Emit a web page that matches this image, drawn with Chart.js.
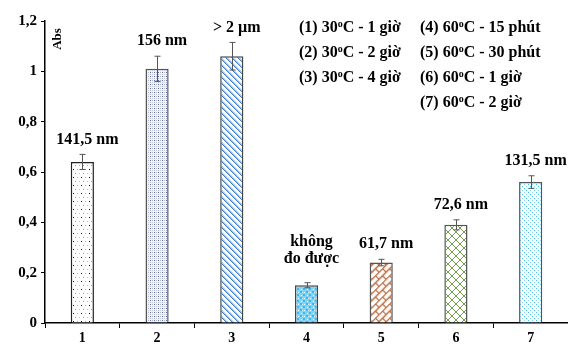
<!DOCTYPE html>
<html>
<head>
<meta charset="utf-8">
<script src="https://cdn.jsdelivr.net/npm/chart.js@4"></script>
<style>
  body { margin: 0; background: #fff; }
  #wrap { width: 568px; height: 345px; }
</style>
</head>
<body>
<div id="wrap"><canvas id="barChart" width="568" height="345"></canvas></div>
<script>
var categories = ['1', '2', '3', '4', '5', '6', '7'];
var absValues = [0.64, 1.01, 1.06, 0.15, 0.24, 0.39, 0.56];
var absErrors = [0.03, 0.05, 0.055, 0.01, 0.013, 0.02, 0.025];
var sizeLabels = ['141,5 nm', '156 nm', '> 2 µm', ['không', 'đo được'], '61,7 nm', '72,6 nm', '131,5 nm'];
var yTickLabels = ['0', '0,2', '0,4', '0,6', '0,8', '1', '1,2'];
var legendCol1 = ['(1) 30°C - 1 giờ', '(2) 30°C - 2 giờ', '(3) 30°C - 4 giờ'];
var legendCol2 = ['(4) 60°C - 15 phút', '(5) 60°C - 30 phút', '(6) 60°C - 1 giờ', '(7) 60°C - 2 giờ'];

var serif = '"Liberation Serif", "Times New Roman", serif';

function makePattern(w, h, draw, matrix) {
    var c = document.createElement('canvas');
    c.width = w;
    c.height = h;
    var g = c.getContext('2d');
    g.fillStyle = '#fff';
    g.fillRect(0, 0, w, h);
    draw(g);
    var p = document.getElementById('barChart').getContext('2d').createPattern(c, 'repeat');
    if (matrix) {
        p.setTransform(matrix);
    }
    return p;
}

function px(g, x, y, col) {
    g.fillStyle = col;
    g.fillRect(x, y, 1, 1);
}

var patterns = [
    // 1: sparse dots
    makePattern(8, 8, function (g) {
        px(g, 1, 1, '#111');
        px(g, 5, 1, '#aaa');
        px(g, 3, 5, '#999');
        px(g, 7, 5, '#bbb');
    }),
    // 2: dense gray-blue dots
    makePattern(4, 4, function (g) {
        g.fillStyle = '#f2f3f6';
        g.fillRect(0, 0, 4, 4);
        px(g, 0, 0, '#b3b8c8');
        px(g, 2, 2, '#b3b8c8');
        px(g, 2, 0, '#6674aa');
        px(g, 0, 2, '#cfd2dc');
    }),
    // 3: wide downward diagonal
    makePattern(6, 6, function (g) {
        for (var i = 0; i < 6; i++) {
            px(g, i, i, '#3d7cc6');
            px(g, (i + 1) % 6, i, '#9fc3ea');
            px(g, (i + 2) % 6, i, '#c9def4');
        }
    }),
    // 4: cyan check
    makePattern(6, 6, function (g) {
        g.fillStyle = '#84d4f6';
        g.fillRect(0, 0, 6, 6);
        g.fillStyle = '#36baf0';
        g.fillRect(3, 0, 2, 2);
        g.fillRect(0, 3, 2, 2);
        px(g, 1, 1, '#fff');
        px(g, 4, 4, '#fff');
        px(g, 2, 4, '#d8f2fc');
    }),
    // 5: diagonal brick
    makePattern(10, 10, function (g) {
        g.strokeStyle = '#b5693d';
        g.lineWidth = 1.3;
        g.beginPath();
        g.moveTo(0, 0.5); g.lineTo(10, 0.5);
        g.moveTo(0, 5.5); g.lineTo(10, 5.5);
        g.moveTo(0.5, 0); g.lineTo(0.5, 5.5);
        g.moveTo(5.5, 5.5); g.lineTo(5.5, 10);
        g.stroke();
    }, new DOMMatrix().rotate(-45)),
    // 6: diamond lattice
    makePattern(8, 8, function (g) {
        g.strokeStyle = '#729e4e';
        g.lineWidth = 1;
        g.beginPath();
        g.moveTo(0, 0); g.lineTo(8, 8);
        g.moveTo(0, 8); g.lineTo(8, 0);
        g.stroke();
    }),
    // 7: sparse cyan dots
    makePattern(8, 8, function (g) {
        px(g, 0, 0, '#3ec0f2');
        px(g, 4, 0, '#8fd9f7');
        px(g, 2, 2, '#3ec0f2');
        px(g, 6, 2, '#8fd9f7');
        px(g, 0, 4, '#8fd9f7');
        px(g, 4, 4, '#3ec0f2');
        px(g, 2, 6, '#8fd9f7');
        px(g, 6, 6, '#3ec0f2');
    })
];

var errorBarPlugin = {
    id: 'errorBars',
    afterDatasetsDraw: function (chart) {
        var ctx = chart.ctx;
        var meta = chart.getDatasetMeta(0);
        var y = chart.scales.y;
        ctx.save();
        ctx.strokeStyle = '#555';
        ctx.lineWidth = 1;
        meta.data.forEach(function (bar, i) {
            var top = y.getPixelForValue(absValues[i] + absErrors[i]);
            var bot = y.getPixelForValue(absValues[i] - absErrors[i]);
            var x = Math.round(bar.x) + 0.5;
            ctx.beginPath();
            ctx.moveTo(x, top); ctx.lineTo(x, bot);
            ctx.moveTo(x - 3, top); ctx.lineTo(x + 3, top);
            ctx.moveTo(x - 3, bot); ctx.lineTo(x + 3, bot);
            ctx.stroke();
        });
        ctx.restore();
    }
};

function drawDegreeText(ctx, text, x, y, size) {
    var parts = text.split('°');
    ctx.font = 'bold ' + size + 'px ' + serif;
    ctx.fillText(parts[0], x, y);
    x += ctx.measureText(parts[0]).width;
    if (parts.length > 1) {
        ctx.font = 'bold ' + Math.round(size * 0.62) + 'px ' + serif;
        ctx.fillText('o', x, y - size * 0.3);
        x += ctx.measureText('o').width;
        ctx.font = 'bold ' + size + 'px ' + serif;
        ctx.fillText(parts[1], x, y);
    }
}

var annotationPlugin = {
    id: 'annotations',
    afterDraw: function (chart) {
        var ctx = chart.ctx;
        var meta = chart.getDatasetMeta(0);
        var y = chart.scales.y;
        var area = chart.chartArea;
        ctx.save();
        ctx.fillStyle = '#000';

        // labels over the bars
        ctx.font = 'bold 16px ' + serif;
        ctx.textAlign = 'center';
        ctx.textBaseline = 'middle';
        meta.data.forEach(function (bar, i) {
            var lines = [].concat(sizeLabels[i]);
            var top = y.getPixelForValue(absValues[i] + absErrors[i]);
            var base = top - 15 - (lines.length - 1) * 9;
            for (var k = 0; k < lines.length; k++) {
                ctx.fillText(lines[k], bar.x + 5, base - (lines.length - 1 - k) * 17);
            }
        });

        // y title
        ctx.save();
        ctx.translate(area.left + 13, area.top + 18);
        ctx.rotate(-Math.PI / 2);
        ctx.font = 'bold 13px ' + serif;
        ctx.fillText('Abs', 0, 0);
        ctx.restore();

        // legend text
        ctx.textAlign = 'left';
        ctx.textBaseline = 'alphabetic';
        legendCol1.forEach(function (t, i) {
            drawDegreeText(ctx, t, 299, 32 + i * 25, 16);
        });
        legendCol2.forEach(function (t, i) {
            drawDegreeText(ctx, t, 420, 32 + i * 25, 16);
        });
        ctx.restore();
    }
};

var ctx = document.getElementById('barChart').getContext('2d');
var barChart = new Chart(ctx, {
    type: 'bar',
    data: {
        labels: categories,
        datasets: [{
            data: absValues,
            backgroundColor: patterns,
            borderColor: ['#222', '#555', '#444', '#444', '#555', '#555', '#555'],
            borderWidth: 1.5,
            barPercentage: 0.31,
            categoryPercentage: 1
        }]
    },
    options: {
        responsive: false,
        animation: false,
        devicePixelRatio: 1,
        layout: { padding: { top: 21, right: 0, left: 0, bottom: 0 } },
        plugins: {
            legend: { display: false },
            tooltip: { enabled: false }
        },
        scales: {
            x: {
                grid: { drawOnChartArea: false, color: '#000', tickLength: 5, lineWidth: 1 },
                border: { color: '#000', width: 1.5 },
                ticks: {
                    color: '#000',
                    padding: 2,
                    font: { family: serif, size: 14, weight: 'bold' }
                },
                afterFit: function (scale) { scale.height = 22; }
            },
            y: {
                min: 0,
                max: 1.2,
                grid: { drawOnChartArea: false, color: '#000', tickLength: 4, lineWidth: 1 },
                border: { color: '#000', width: 1.5 },
                ticks: {
                    stepSize: 0.2,
                    color: '#000',
                    padding: 4,
                    font: { family: serif, size: 15, weight: 'bold' },
                    callback: function (value, index) { return yTickLabels[index]; }
                },
                afterFit: function (scale) { scale.width = 45; }
            }
        }
    },
    plugins: [errorBarPlugin, annotationPlugin]
});
</script>
</body>
</html>
